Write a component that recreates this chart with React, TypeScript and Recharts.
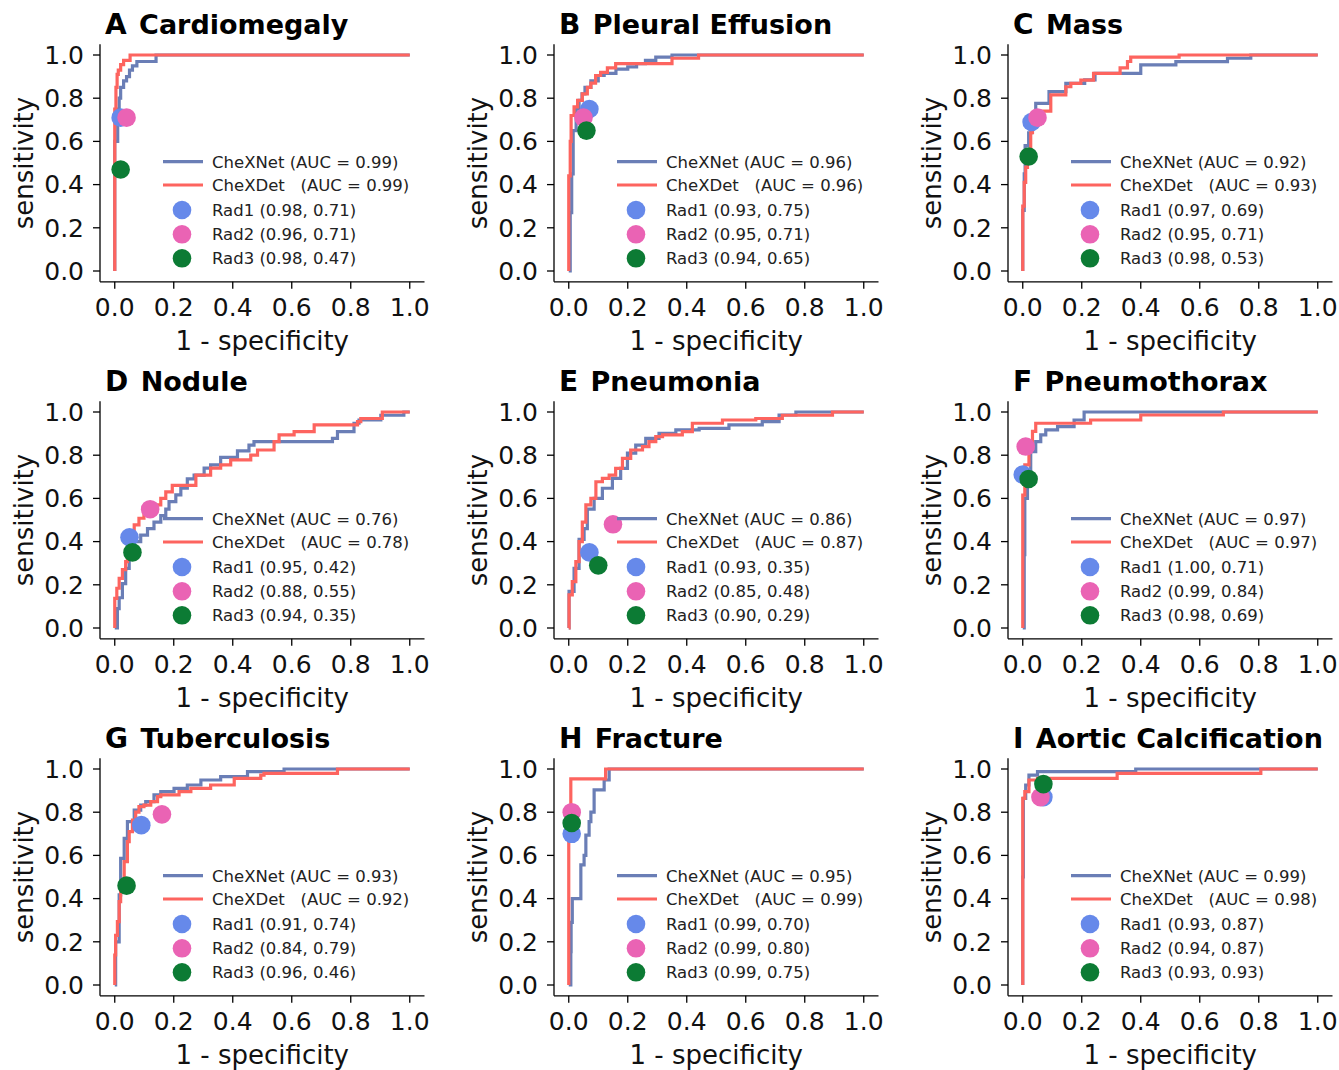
import { ComposedChart, Line, Scatter, XAxis, YAxis } from 'recharts'

const FONT = '"DejaVu Sans", Verdana, sans-serif'
const TICKS = [0, 0.2, 0.4, 0.6, 0.8, 1.0]

const NET_COLOR = '#6a7eb6'
const DET_COLOR = '#fd645f'
const RAD_COLORS = ['#6689ea', '#ea63b4', '#0c7b34']

const letters = ['A', 'B', 'C', 'D', 'E', 'F', 'G', 'H', 'I']
const findings = [
  'Cardiomegaly', 'Pleural Effusion', 'Mass',
  'Nodule', 'Pneumonia', 'Pneumothorax',
  'Tuberculosis', 'Fracture', 'Aortic Calcification',
]
const chexnetAuc = [0.99, 0.96, 0.92, 0.76, 0.86, 0.97, 0.93, 0.95, 0.99]
const chexdetAuc = [0.99, 0.96, 0.93, 0.78, 0.87, 0.97, 0.92, 0.99, 0.98]

// radiologists as [specificity, sensitivity]
const rad1 = [[0.98, 0.71], [0.93, 0.75], [0.97, 0.69], [0.95, 0.42], [0.93, 0.35], [1.0, 0.71], [0.91, 0.74], [0.99, 0.7], [0.93, 0.87]]
const rad2 = [[0.96, 0.71], [0.95, 0.71], [0.95, 0.71], [0.88, 0.55], [0.85, 0.48], [0.99, 0.84], [0.84, 0.79], [0.99, 0.8], [0.94, 0.87]]
const rad3 = [[0.98, 0.47], [0.94, 0.65], [0.98, 0.53], [0.94, 0.35], [0.9, 0.29], [0.98, 0.69], [0.96, 0.46], [0.99, 0.75], [0.93, 0.93]]

// ROC corners [fpr, tpr], drawn as steps
const cardiomegalyNet = [[0, 0], [0, 0.6], [0.01, 0.75], [0.015, 0.8], [0.02, 0.85], [0.03, 0.88], [0.04, 0.9], [0.05, 0.93], [0.06, 0.95], [0.075, 0.97], [0.14, 1], [1, 1]]
const cardiomegalyDet = [[0, 0], [0, 0.75], [0.004, 0.85], [0.008, 0.91], [0.012, 0.93], [0.02, 0.955], [0.03, 0.975], [0.052, 1], [1, 1]]

const effusionNet = [[0, 0], [0.005, 0.27], [0.01, 0.45], [0.015, 0.65], [0.025, 0.75], [0.035, 0.79], [0.045, 0.82], [0.055, 0.85], [0.075, 0.88], [0.1, 0.905], [0.12, 0.915], [0.16, 0.935], [0.2, 0.945], [0.23, 0.96], [0.26, 0.975], [0.295, 0.99], [0.35, 1], [1, 1]]
const effusionDet = [[0, 0], [0, 0.44], [0.005, 0.6], [0.008, 0.72], [0.018, 0.76], [0.03, 0.79], [0.046, 0.82], [0.063, 0.85], [0.075, 0.87], [0.091, 0.905], [0.108, 0.92], [0.131, 0.94], [0.159, 0.96], [0.35, 0.985], [0.44, 1], [1, 1]]

const massNet = [[0, 0], [0, 0.28], [0.005, 0.45], [0.008, 0.58], [0.02, 0.64], [0.03, 0.7], [0.044, 0.776], [0.089, 0.83], [0.146, 0.869], [0.21, 0.885], [0.245, 0.915], [0.4, 0.954], [0.519, 0.969], [0.694, 0.985], [0.773, 1], [1, 1]]
const massDet = [[0, 0], [0, 0.3], [0.005, 0.41], [0.01, 0.48], [0.016, 0.56], [0.027, 0.64], [0.033, 0.68], [0.05, 0.74], [0.095, 0.815], [0.146, 0.853], [0.163, 0.869], [0.197, 0.884], [0.24, 0.915], [0.33, 0.94], [0.355, 0.97], [0.366, 0.99], [0.53, 1], [1, 1]]

const noduleNet = [[0, 0], [0.009, 0.09], [0.015, 0.14], [0.026, 0.205], [0.037, 0.276], [0.049, 0.384], [0.066, 0.4], [0.088, 0.43], [0.111, 0.46], [0.133, 0.49], [0.156, 0.52], [0.173, 0.55], [0.184, 0.585], [0.207, 0.616], [0.224, 0.647], [0.246, 0.69], [0.269, 0.708], [0.303, 0.74], [0.325, 0.755], [0.359, 0.79], [0.416, 0.82], [0.455, 0.847], [0.472, 0.863], [0.738, 0.878], [0.755, 0.909], [0.811, 0.948], [0.828, 0.963], [0.902, 0.985], [0.98, 1], [1, 1]]
const noduleDet = [[0, 0], [0, 0.137], [0.007, 0.184], [0.015, 0.23], [0.026, 0.27], [0.037, 0.307], [0.043, 0.37], [0.054, 0.415], [0.066, 0.477], [0.082, 0.508], [0.099, 0.53], [0.133, 0.57], [0.156, 0.6], [0.173, 0.63], [0.195, 0.66], [0.275, 0.708], [0.325, 0.74], [0.359, 0.755], [0.393, 0.778], [0.461, 0.8], [0.484, 0.824], [0.54, 0.863], [0.557, 0.894], [0.608, 0.909], [0.676, 0.94], [0.823, 0.955], [0.834, 0.97], [0.907, 1], [1, 1]]

const pneumoniaNet = [[0, 0], [0.001, 0.17], [0.018, 0.276], [0.035, 0.41], [0.052, 0.46], [0.063, 0.55], [0.086, 0.6], [0.114, 0.647], [0.148, 0.693], [0.176, 0.739], [0.199, 0.81], [0.227, 0.847], [0.261, 0.878], [0.306, 0.901], [0.363, 0.917], [0.442, 0.924], [0.543, 0.94], [0.656, 0.955], [0.713, 0.986], [0.77, 1], [1, 1]]
const pneumoniaDet = [[0, 0], [0.001, 0.153], [0.012, 0.215], [0.024, 0.307], [0.035, 0.4], [0.046, 0.49], [0.058, 0.57], [0.075, 0.6], [0.092, 0.677], [0.114, 0.693], [0.137, 0.708], [0.159, 0.739], [0.182, 0.785], [0.21, 0.824], [0.25, 0.84], [0.272, 0.863], [0.295, 0.886], [0.318, 0.894], [0.385, 0.909], [0.419, 0.948], [0.521, 0.963], [0.634, 0.97], [0.724, 0.985], [0.894, 1], [1, 1]]

const pneumothoraxNet = [[0, 0], [0.005, 0.34], [0.007, 0.6], [0.016, 0.71], [0.027, 0.816], [0.044, 0.863], [0.061, 0.894], [0.078, 0.917], [0.118, 0.932], [0.174, 0.963], [0.208, 1], [1, 1]]
const pneumothoraxDet = [[0, 0], [0, 0.615], [0.007, 0.755], [0.021, 0.83], [0.033, 0.91], [0.044, 0.948], [0.23, 0.963], [0.4, 0.986], [0.68, 1], [1, 1]]

const tuberculosisNet = [[0, 0], [0.003, 0.2], [0.015, 0.417], [0.02, 0.586], [0.032, 0.679], [0.043, 0.756], [0.066, 0.81], [0.088, 0.833], [0.105, 0.849], [0.133, 0.88], [0.156, 0.895], [0.201, 0.91], [0.246, 0.926], [0.292, 0.949], [0.359, 0.965], [0.45, 0.988], [0.574, 1], [1, 1]]
const tuberculosisDet = [[0, 0], [0, 0.139], [0.003, 0.23], [0.009, 0.293], [0.015, 0.386], [0.02, 0.463], [0.032, 0.571], [0.043, 0.664], [0.049, 0.71], [0.06, 0.764], [0.071, 0.8], [0.082, 0.826], [0.099, 0.833], [0.122, 0.849], [0.145, 0.872], [0.156, 0.88], [0.218, 0.895], [0.258, 0.91], [0.325, 0.926], [0.405, 0.957], [0.495, 0.972], [0.506, 0.98], [0.755, 1], [1, 1]]

const fractureNet = [[0, 0], [0.007, 0.154], [0.008, 0.29], [0.012, 0.4], [0.041, 0.556], [0.052, 0.6], [0.058, 0.694], [0.069, 0.756], [0.075, 0.8], [0.086, 0.903], [0.12, 0.949], [0.137, 1], [1, 1]]
const fractureDet = [[0, 0], [0, 0.8], [0.007, 0.954], [0.125, 1], [1, 1]]

const aorticNet = [[0, 0], [0, 0.5], [0.002, 0.864], [0.01, 0.926], [0.021, 0.972], [0.05, 0.988], [0.383, 1], [1, 1]]
const aorticDet = [[0, 0], [0, 0.864], [0.007, 0.895], [0.021, 0.949], [0.05, 0.957], [0.32, 0.98], [0.807, 1], [1, 1]]

const netCurves = [cardiomegalyNet, effusionNet, massNet, noduleNet, pneumoniaNet, pneumothoraxNet, tuberculosisNet, fractureNet, aorticNet]
const detCurves = [cardiomegalyDet, effusionDet, massDet, noduleDet, pneumoniaDet, pneumothoraxDet, tuberculosisDet, fractureDet, aorticDet]

const toPoints = (arr: number[][]) => arr.map(([x, y]) => ({ x, y }))
const fmt = (v: number) => v.toFixed(1)
const f2 = (v: number) => v.toFixed(2)

const axisStyle = { stroke: '#000', strokeWidth: 1.3 }
const tickStyle = { fontSize: 25, fill: '#111', fontFamily: FONT }

// plot area inside each panel
const PLOT_LEFT = 100
const PLOT_TOP = 44.2
const PLOT_W = 324.5
const PLOT_BOTTOM = 281.8

function Dot(props: any) {
  const { cx, cy, fill } = props
  if (cx == null || cy == null) return null
  return <circle cx={cx} cy={cy} r={9.3} fill={fill} />
}

function Panel({ i }: { i: number }) {
  const col = i % 3
  const row = Math.floor(i / 3)
  const rads = [rad1[i], rad2[i], rad3[i]]
  const legendRows = [161.7, 185, 210, 234.3, 258.3]
  const labels = [
    `CheXNet (AUC = ${f2(chexnetAuc[i])})`,
    `CheXDet   (AUC = ${f2(chexdetAuc[i])})`,
    ...rads.map((r, k) => `Rad${k + 1} (${f2(r[0])}, ${f2(r[1])})`),
  ]
  return (
    <div style={{ position: 'absolute', left: col * 454, top: row * 357, width: 454, height: 357 }}>
      <ComposedChart
        width={440}
        height={357}
        margin={{ top: PLOT_TOP, right: 440 - PLOT_LEFT - PLOT_W, bottom: 0, left: 40 }}
      >
        <XAxis
          type="number"
          dataKey="x"
          domain={[-0.05, 1.05]}
          allowDataOverflow
          ticks={TICKS}
          interval={0}
          tickFormatter={fmt}
          height={357 - PLOT_BOTTOM}
          tickSize={7}
          tickMargin={9}
          axisLine={axisStyle}
          tickLine={axisStyle}
          tick={tickStyle}
        />
        <YAxis
          type="number"
          dataKey="y"
          domain={[-0.05, 1.05]}
          allowDataOverflow
          ticks={TICKS}
          interval={0}
          tickFormatter={fmt}
          width={60}
          tickSize={7}
          tickMargin={9}
          axisLine={axisStyle}
          tickLine={axisStyle}
          tick={tickStyle}
        />
        <Line data={toPoints(netCurves[i])} dataKey="y" type="stepAfter" stroke={NET_COLOR} strokeWidth={3.2} dot={false} isAnimationActive={false} />
        <Line data={toPoints(detCurves[i])} dataKey="y" type="stepAfter" stroke={DET_COLOR} strokeWidth={3.2} dot={false} isAnimationActive={false} />
        {rads.map((r, k) => (
          <Scatter
            key={k}
            data={[{ x: 1 - r[0], y: r[1] }]}
            fill={RAD_COLORS[k]}
            shape={<Dot />}
            isAnimationActive={false}
          />
        ))}
      </ComposedChart>
      <svg
        width={454}
        height={357}
        style={{ position: 'absolute', left: 0, top: 0, overflow: 'visible', pointerEvents: 'none' }}
        fontFamily={FONT}
      >
        <text x={105} y={34} fontWeight="bold" fill="#000" style={{ whiteSpace: 'pre' }}>
          <tspan fontSize={28}>{letters[i]}</tspan>
          <tspan fontSize={27} dx={3}>{' ' + findings[i]}</tspan>
        </text>
        <text x={PLOT_LEFT + PLOT_W / 2} y={350} fontSize={26} textAnchor="middle" fill="#111">
          1 - specificity
        </text>
        <text x={33} y={163} fontSize={26} textAnchor="middle" fill="#111" transform="rotate(-90 33 163)">
          sensitivity
        </text>
        {legendRows.map((cy, k) => (
          <g key={k}>
            {k < 2 ? (
              <line x1={163} x2={203} y1={cy} y2={cy} stroke={k === 0 ? NET_COLOR : DET_COLOR} strokeWidth={3.2} />
            ) : (
              <circle cx={182} cy={cy} r={9.3} fill={RAD_COLORS[k - 2]} />
            )}
            <text x={212} y={cy + 6} fontSize={16.5} fill="#222" style={{ whiteSpace: 'pre' }}>
              {labels[k]}
            </text>
          </g>
        ))}
      </svg>
    </div>
  )
}

export default function App() {
  return (
    <div style={{ position: 'absolute', left: 0, top: 0, width: 1339, height: 1070, overflow: 'hidden', background: '#fff' }}>
      {letters.map((_, i) => (
        <Panel key={i} i={i} />
      ))}
    </div>
  )
}
